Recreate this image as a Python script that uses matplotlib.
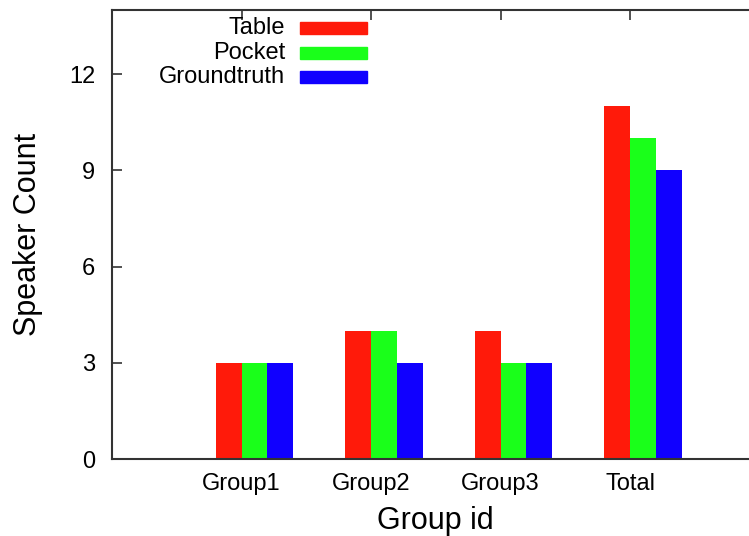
import matplotlib
matplotlib.use("Agg")
import matplotlib.pyplot as plt
from matplotlib.patches import Rectangle

plt.rcParams['font.family'] = ['Liberation Sans', 'DejaVu Sans']

groups = ["Group1", "Group2", "Group3", "Total"]
series_names = ["Table", "Pocket", "Groundtruth"]
table = [3, 4, 4, 11]
pocket = [3, 4, 3, 10]
groundtruth = [3, 3, 3, 9]
colors = ["#ff1a0a", "#1aff1a", "#1000ff"]
yticks = [0, 3, 6, 9, 12]

W, H = 749, 536
fig = plt.figure(figsize=(W / 100, H / 100), dpi=100)
x0, x1 = 112, 759.5
ytop, ybot = 10, 459
ax = fig.add_axes([x0 / W, (H - ybot) / H, (x1 - x0) / W, (ybot - ytop) / H])

pos = list(range(1, len(groups) + 1))
width = 0.2
for i, (vals, c) in enumerate(zip([table, pocket, groundtruth], colors)):
    xs = [p - 0.1 + i * width for p in pos]
    ax.bar(xs, vals, width=width, color=c, edgecolor='none', zorder=2)

ax.set_xlim(0, 5)
ax.set_ylim(0, 14)
ax.set_xticks(pos)
ax.set_xticklabels(groups)
ax.set_yticks(yticks)
ax.tick_params(axis='both', direction='in', labelsize=17, length=7, width=1.2,
               color='#333333', top=True, right=True)
ax.tick_params(axis='x', pad=10, bottom=False)
ax.tick_params(axis='y', pad=12)
for s in ax.spines.values():
    s.set_color('#333333')
    s.set_linewidth(1.5)

ax.set_xlabel("Group id", fontsize=22, labelpad=8)
ax.set_ylabel("Speaker Count", fontsize=22, labelpad=19)

# key: labels right-aligned, colour samples to the right
row_y = [0.960, 0.905, 0.851]
for name, c, yy in zip(series_names, colors, row_y):
    ax.text(0.267, yy, name, ha='right', va='center', fontsize=17,
            transform=ax.transAxes)
    ax.add_patch(Rectangle((0.290, yy - 0.0134), 0.104, 0.0268, color=c,
                           transform=ax.transAxes, zorder=3))

fig.savefig("out.png", dpi=100)
